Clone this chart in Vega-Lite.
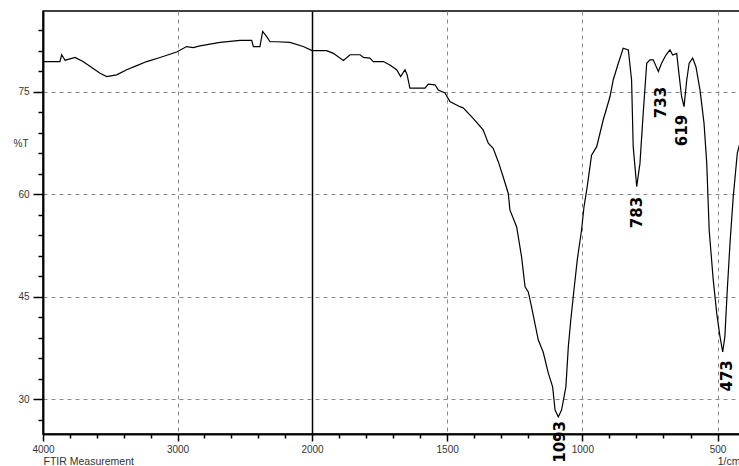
{
  "$schema": "https://vega.github.io/schema/vega-lite/v6.json",
  "width": 697,
  "height": 423,
  "autosize": {"type": "none"},
  "padding": {"left": 43, "top": 11, "right": 0, "bottom": 32},
  "background": "white",
  "config": {"view": {"stroke": "black", "strokeWidth": 1.5}, "font": "Liberation Sans"},
  "datasets": {
    "spectrum": [
      {"wn": 4000, "t": 79.4}, {"wn": 3874, "t": 79.4}, {"wn": 3861, "t": 80.4}, {"wn": 3836, "t": 79.6},
      {"wn": 3799, "t": 79.8}, {"wn": 3762, "t": 80.0}, {"wn": 3703, "t": 79.4}, {"wn": 3651, "t": 78.7},
      {"wn": 3576, "t": 77.7}, {"wn": 3526, "t": 77.2}, {"wn": 3452, "t": 77.45}, {"wn": 3378, "t": 78.2},
      {"wn": 3303, "t": 78.8}, {"wn": 3229, "t": 79.4}, {"wn": 3130, "t": 80.0}, {"wn": 3006, "t": 80.8},
      {"wn": 2932, "t": 81.6}, {"wn": 2883, "t": 81.45}, {"wn": 2833, "t": 81.7}, {"wn": 2684, "t": 82.2},
      {"wn": 2535, "t": 82.5}, {"wn": 2448, "t": 82.5}, {"wn": 2436, "t": 81.6}, {"wn": 2387, "t": 81.6},
      {"wn": 2367, "t": 83.8}, {"wn": 2337, "t": 83.05}, {"wn": 2312, "t": 82.3}, {"wn": 2262, "t": 82.3},
      {"wn": 2164, "t": 82.2}, {"wn": 2065, "t": 81.6}, {"wn": 2000, "t": 81.0},
      {"wn": 1946, "t": 81.0}, {"wn": 1921, "t": 80.6}, {"wn": 1884, "t": 79.55}, {"wn": 1859, "t": 80.4},
      {"wn": 1822, "t": 80.4}, {"wn": 1810, "t": 80.0}, {"wn": 1786, "t": 79.9}, {"wn": 1773, "t": 79.4},
      {"wn": 1736, "t": 79.4}, {"wn": 1712, "t": 78.9}, {"wn": 1687, "t": 78.2}, {"wn": 1672, "t": 77.2},
      {"wn": 1656, "t": 78.2}, {"wn": 1648, "t": 77.45}, {"wn": 1638, "t": 75.5}, {"wn": 1582, "t": 75.5},
      {"wn": 1570, "t": 76.1}, {"wn": 1545, "t": 76.0}, {"wn": 1533, "t": 75.25}, {"wn": 1508, "t": 74.8},
      {"wn": 1490, "t": 73.55}, {"wn": 1453, "t": 72.8}, {"wn": 1440, "t": 72.6}, {"wn": 1404, "t": 71.1},
      {"wn": 1367, "t": 69.4}, {"wn": 1348, "t": 67.45}, {"wn": 1330, "t": 66.7}, {"wn": 1311, "t": 64.75},
      {"wn": 1293, "t": 62.55}, {"wn": 1274, "t": 60.1}, {"wn": 1268, "t": 57.7}, {"wn": 1243, "t": 55.2},
      {"wn": 1225, "t": 50.85}, {"wn": 1212, "t": 46.45}, {"wn": 1200, "t": 45.7}, {"wn": 1188, "t": 43.5},
      {"wn": 1163, "t": 38.65}, {"wn": 1145, "t": 36.9}, {"wn": 1126, "t": 33.8}, {"wn": 1110, "t": 31.8},
      {"wn": 1101, "t": 28.4}, {"wn": 1089, "t": 27.4}, {"wn": 1077, "t": 28.4}, {"wn": 1061, "t": 31.8},
      {"wn": 1052, "t": 37.65}, {"wn": 1043, "t": 41.55}, {"wn": 1031, "t": 46.0}, {"wn": 1019, "t": 50.35},
      {"wn": 1003, "t": 54.75}, {"wn": 994, "t": 58.15}, {"wn": 984, "t": 60.6}, {"wn": 966, "t": 65.7},
      {"wn": 947, "t": 66.95}, {"wn": 923, "t": 70.85}, {"wn": 898, "t": 74.25}, {"wn": 886, "t": 76.7},
      {"wn": 867, "t": 79.15}, {"wn": 849, "t": 81.35}, {"wn": 830, "t": 81.1}, {"wn": 818, "t": 76.7},
      {"wn": 812, "t": 66.95}, {"wn": 799, "t": 61.1}, {"wn": 787, "t": 64.5}, {"wn": 775, "t": 71.85},
      {"wn": 762, "t": 79.15}, {"wn": 750, "t": 79.65}, {"wn": 738, "t": 79.65}, {"wn": 719, "t": 77.95},
      {"wn": 707, "t": 79.15}, {"wn": 691, "t": 80.35}, {"wn": 676, "t": 81.1}, {"wn": 666, "t": 80.35},
      {"wn": 651, "t": 80.6}, {"wn": 643, "t": 77.7}, {"wn": 633, "t": 74.25}, {"wn": 624, "t": 72.8},
      {"wn": 614, "t": 76.7}, {"wn": 605, "t": 79.15}, {"wn": 592, "t": 79.9}, {"wn": 580, "t": 78.65},
      {"wn": 565, "t": 75.25}, {"wn": 550, "t": 70.35}, {"wn": 540, "t": 64.5}, {"wn": 531, "t": 54.75},
      {"wn": 516, "t": 47.45}, {"wn": 503, "t": 42.55}, {"wn": 491, "t": 39.15}, {"wn": 481, "t": 36.9},
      {"wn": 473, "t": 39.15}, {"wn": 464, "t": 46.0}, {"wn": 454, "t": 52.8}, {"wn": 442, "t": 59.6},
      {"wn": 427, "t": 66.0}, {"wn": 417, "t": 67.5}
    ],
    "peaks": [
      {"wn": 1083, "t": 26.8, "label": "1093"},
      {"wn": 799, "t": 59.6, "label": "783"},
      {"wn": 709, "t": 75.7, "label": "733"},
      {"wn": 630, "t": 71.6, "label": "619"},
      {"wn": 465, "t": 35.7, "label": "473"}
    ]
  },
  "layer": [
    {
      "data": {"name": "spectrum"},
      "mark": {"type": "line", "color": "black", "strokeWidth": 1.2},
      "encoding": {
        "x": {
          "field": "wn", "type": "quantitative",
          "scale": {"domain": [4000, 2000, 417], "range": [0, 269, 697], "nice": false, "zero": false},
          "axis": {
            "orient": "bottom",
            "values": [3800, 3600, 3400, 3200, 2800, 2600, 2400, 2200, 1900, 1800, 1700, 1600, 1400, 1300, 1200, 1100, 900, 800, 700, 600],
            "labels": false, "grid": false,
            "domainColor": "black", "domainWidth": 1.5,
            "tickColor": "black", "tickWidth": 1.5, "tickSize": 4,
            "title": "FTIR Measurement",
            "titleFont": "Liberation Sans", "titleFontSize": 10.5, "titleFontWeight": "normal", "titleColor": "#333",
            "titleAlign": "left", "titleX": 0, "titleY": 27, "titleBaseline": "middle", "titleAnchor": "start"
          }
        },
        "y": {
          "field": "t", "type": "quantitative",
          "scale": {"domain": [24.9, 86.8], "nice": false, "zero": false},
          "axis": {
            "orient": "left",
            "values": [27, 33, 36, 39, 42, 48, 51, 54, 57, 63, 66, 69, 72, 78, 81, 84],
            "labels": false, "grid": false,
            "domainColor": "black", "domainWidth": 1.5,
            "tickColor": "black", "tickWidth": 1.5, "tickSize": 5,
            "title": "%T",
            "titleFont": "Liberation Sans", "titleFontSize": 10, "titleFontWeight": "normal", "titleColor": "#333",
            "titleAngle": 0, "titleAlign": "left", "titleX": -30, "titleY": 132, "titleBaseline": "middle"
          }
        }
      }
    },
    {
      "data": {"name": "peaks"},
      "mark": {"type": "text", "angle": 270, "align": "right", "baseline": "middle", "font": "DejaVu Sans", "fontWeight": "bold", "fontSize": 15, "color": "black"},
      "encoding": {
        "x": {
          "field": "wn", "type": "quantitative",
          "scale": {"domain": [4000, 2000, 417], "range": [0, 269, 697], "nice": false, "zero": false},
          "axis": {
            "orient": "bottom",
            "values": [4000, 3000, 2000, 1500, 1000, 500],
            "format": "d",
            "labelFont": "Liberation Sans", "labelFontSize": 10, "labelColor": "#333",
            "labelPadding": 3, "labelFlush": false, "labelOverlap": false,
            "domainColor": "black", "domainWidth": 1.5,
            "tickColor": "black", "tickWidth": 1.5, "tickSize": 7,
            "grid": true,
            "gridColor": {"condition": {"test": "datum.value === 2000", "value": "black"}, "value": "#8a8a8a"},
            "gridDash": {"condition": {"test": "datum.value === 2000", "value": []}, "value": [4, 4]},
            "gridWidth": {"condition": {"test": "datum.value === 2000", "value": 1.5}, "value": 1},
            "gridOpacity": {"condition": {"test": "datum.value === 4000", "value": 0}, "value": 1},
            "title": "1/cm",
            "titleFont": "Liberation Sans", "titleFontSize": 10.5, "titleFontWeight": "normal", "titleColor": "#333",
            "titleAlign": "right", "titleX": 697, "titleY": 27, "titleBaseline": "middle"
          }
        },
        "y": {
          "field": "t", "type": "quantitative",
          "scale": {"domain": [24.9, 86.8], "nice": false, "zero": false},
          "axis": {
            "orient": "left",
            "values": [30, 45, 60, 75],
            "format": "d",
            "labelFont": "Liberation Sans", "labelFontSize": 10, "labelColor": "#333",
            "labelPadding": 4, "labelFlush": false, "labelOverlap": false,
            "domainColor": "black", "domainWidth": 1.5,
            "tickColor": "black", "tickWidth": 1.5, "tickSize": 10,
            "grid": true, "gridColor": "#8a8a8a", "gridDash": [4, 4], "gridWidth": 1,
            "title": null
          }
        },
        "text": {"field": "label"}
      }
    }
  ],
  "resolve": {"axis": {"x": "independent", "y": "independent"}}
}
